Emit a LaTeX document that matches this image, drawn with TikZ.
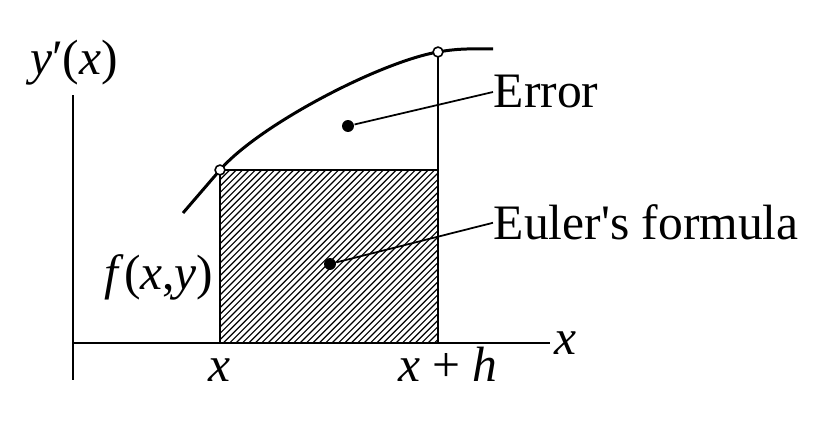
\documentclass[tikz,border=0pt]{standalone}
\usepackage{fontspec}
\setmainfont{Liberation Serif}

\begin{document}
\begin{tikzpicture}[
	x=0.01cm,
	y=0.01cm,
	font=\fontsize{14.1}{17}\selectfont,
	axis/.style={draw=black, line width=0.6pt},
	curve/.style={draw=black, line width=0.85pt},
	frame/.style={draw=black, line width=0.6pt},
	hatch/.style={draw=black, line width=0.33pt},
	opendot/.style={
		circle,
		draw=black,
		fill=white,
		line width=0.45pt,
		inner sep=0pt,
		minimum size=2.8pt
	},
	dot/.style={circle, fill=black, inner sep=0pt, minimum size=3.4pt},
	lbl/.style={inner sep=0pt},
	leader/.style={draw=black, line width=0.5pt}
	]
	
	\useasboundingbox (0,0) rectangle (836,440);
	
	\coordinate (ybot) at (73,60);
	\coordinate (ytop) at (73,345);
	\coordinate (origin) at (73,97);
	\coordinate (xend) at (550,97);
	\coordinate (xa) at (220,97);
	\coordinate (xb) at (438,97);
	\coordinate (fa) at (220,270);
	\coordinate (fb) at (438,388);
	
	\begin{scope}
		\clip (xa) rectangle (xb |- fa);
		\foreach \s in {-180,-173.6,...,440}
			\draw[hatch] (\s,97) -- ++(180,180);
	\end{scope}
	\draw[frame] (xa) rectangle (xb |- fa);
	\draw[axis] (ybot) -- (ytop);
	\draw[axis] (origin) -- (xend);
	\draw[axis] (xb) -- (fb);
	
	\draw[curve] (183,227) -- (fa)
		.. controls (259,315) and (380,378) .. (fb)
		.. controls (460,392) and (475,391) .. (493,391);
	
	\node[opendot] (pa) at (fa) {};
	\node[opendot] (pb) at (fb) {};
	
	\node[dot] (errdot) at (348,314) {};
	\node[dot] (euldot) at (330,176) {};
	
	\node[lbl, anchor=base west] (error) at (493,332) {Error};
	\node[lbl, anchor=base west] (euler) at (493,200) {Euler\textquotesingle s formula};
	
	\draw[leader] (errdot) -- (error.west);
	\draw[leader] (euldot) -- (euler.west);
	
	\node[lbl, anchor=base] (ylabel) at (74,365) {\textit{y}′(\textit{x})};
	\node[lbl, anchor=base] (flabel) at (159,150) {\textit{f}(\textit{x},\textit{y})};
	\node[lbl, anchor=base] (xlabel) at (565,85) {\textit{x}};
	\node[lbl, anchor=base] (xalabel) at (220,58) {\textit{x}};
	\node[lbl, anchor=base] (xblabel) at (448,58) {\textit{x} + \textit{h}};
\end{tikzpicture}
\end{document}
